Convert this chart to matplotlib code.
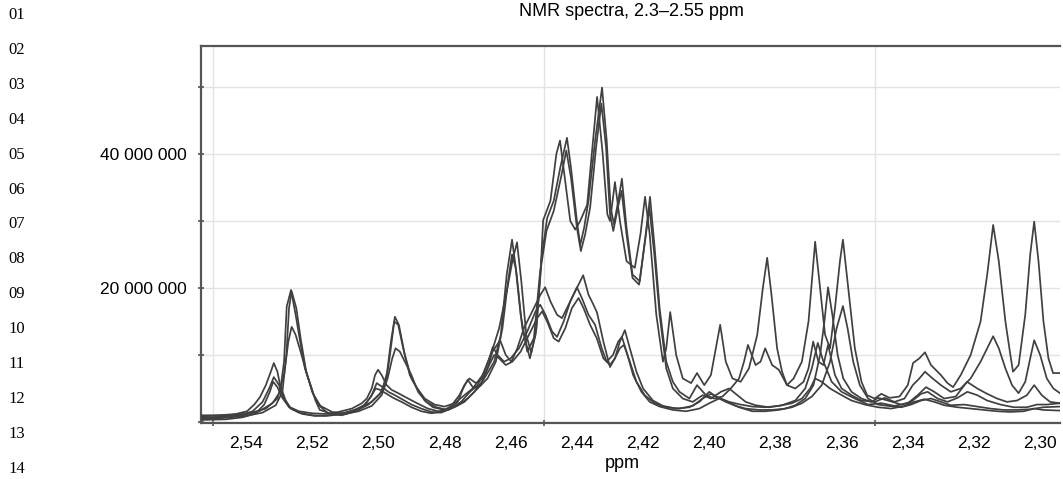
import matplotlib
matplotlib.use("Agg")
import matplotlib.pyplot as plt
from matplotlib.ticker import MultipleLocator, FixedLocator, FuncFormatter

# spectra: (ppm, intensity in millions)
trace_a1 = [
    (2.5536, 0.6), (2.548, 0.8), (2.541, 1.0), (2.536, 1.6), (2.532, 2.8), (2.5297, 4.5),
    (2.5285, 9), (2.5277, 17.2), (2.5264, 19.7), (2.5250, 16), (2.5237, 12.2), (2.5222, 8),
    (2.5207, 5.8), (2.5190, 3.2), (2.5177, 1.8), (2.514, 1.2), (2.510, 1.3), (2.506, 2.0),
    (2.502, 3.0), (2.4990, 4.5), (2.4974, 7.3), (2.4962, 12), (2.4950, 15.7), (2.4938, 14.5),
    (2.4920, 10), (2.4900, 6.5), (2.4883, 5.0), (2.4860, 3.2), (2.4835, 2.2), (2.4800, 1.8),
    (2.4770, 2.2), (2.4740, 3.0), (2.4710, 4.5), (2.4680, 6.5), (2.4650, 9), (2.4630, 13),
    (2.4612, 22), (2.4596, 27.2), (2.4582, 22), (2.4565, 14), (2.4542, 9.5), (2.4525, 13),
    (2.4510, 22), (2.4502, 30.1), (2.4480, 33), (2.4462, 40), (2.4451, 42.0), (2.4438, 37),
    (2.4420, 30), (2.4405, 28.7), (2.4390, 30), (2.4369, 32.4), (2.4355, 40), (2.4339, 48.5),
    (2.4322, 40), (2.4308, 31), (2.4300, 30), (2.4292, 33), (2.4285, 35.8), (2.4270, 30),
    (2.4250, 24), (2.4225, 23), (2.4208, 28), (2.4194, 33.6), (2.4180, 28), (2.4160, 16),
    (2.4140, 9), (2.4130, 11), (2.4118, 16.4), (2.4100, 10), (2.4080, 6.5), (2.4055, 5.8),
    (2.4037, 7.3), (2.4015, 5.5), (2.3995, 7), (2.3980, 11), (2.3967, 14.5), (2.3950, 9),
    (2.3930, 6.5), (2.3905, 6), (2.3880, 8), (2.3855, 13), (2.3838, 20), (2.3825, 24.5),
    (2.3812, 19), (2.3795, 11), (2.3780, 7.5), (2.3765, 5.5), (2.3745, 6.5), (2.3720, 9),
    (2.3700, 15), (2.3680, 26.9), (2.3665, 20), (2.3650, 13), (2.3635, 11), (2.3620, 17),
    (2.3605, 24), (2.3596, 27.2), (2.3580, 20), (2.3560, 11), (2.3540, 6), (2.3523, 4.0),
    (2.3500, 3.5), (2.3480, 4.2), (2.3455, 3.6), (2.3425, 3.8), (2.3400, 5.5), (2.3384, 8.8),
    (2.3365, 9.5), (2.3348, 10.4), (2.3330, 8.5), (2.3300, 7), (2.3280, 5.8), (2.3263, 5.2),
    (2.3240, 7), (2.3210, 10), (2.3180, 15), (2.3160, 22), (2.3142, 29.4), (2.3125, 24),
    (2.3105, 15), (2.3090, 10), (2.3082, 7.5), (2.3065, 8.5), (2.3045, 16), (2.3030, 25),
    (2.3018, 29.9), (2.3005, 24), (2.2990, 15), (2.2975, 9.5), (2.2961, 7.3), (2.2940, 7.3),
]

trace_a2 = [
    (2.5536, 0.4), (2.547, 0.6), (2.540, 0.9), (2.535, 1.4), (2.531, 2.5), (2.5290, 4.5),
    (2.5278, 10), (2.5270, 17), (2.5262, 19.5), (2.5248, 17), (2.5235, 12.5), (2.5218, 7.5),
    (2.5200, 4.5), (2.5180, 2.5), (2.5150, 1.2), (2.5110, 1.0), (2.5070, 1.6), (2.5030, 2.6),
    (2.4995, 4.2), (2.4975, 6.5), (2.4965, 10), (2.4952, 15.0), (2.4940, 14.5), (2.4925, 11),
    (2.4905, 7), (2.4885, 5.2), (2.4860, 3.5), (2.4830, 2.6), (2.4800, 2.3), (2.4770, 2.8),
    (2.4745, 3.8), (2.4715, 5), (2.4685, 7), (2.4660, 10), (2.4635, 14), (2.4610, 20),
    (2.4595, 24), (2.4581, 26.8), (2.4568, 21), (2.4553, 13), (2.4538, 10.3), (2.4522, 14),
    (2.4508, 24), (2.4490, 30.4), (2.4470, 33), (2.4450, 38), (2.4430, 42.4), (2.4418, 38),
    (2.4400, 30), (2.4390, 26.4), (2.4378, 29), (2.4365, 33), (2.4345, 42), (2.4324, 49.9),
    (2.4310, 42), (2.4298, 32), (2.4288, 29.5), (2.4275, 33), (2.4264, 36.3), (2.4250, 29),
    (2.4232, 22), (2.4210, 21), (2.4192, 28), (2.4179, 33.6), (2.4165, 26), (2.4150, 17),
    (2.4130, 9), (2.4110, 6), (2.4090, 4.5), (2.4060, 3.5), (2.4037, 5.5), (2.4010, 4),
    (2.3985, 3.5), (2.3960, 3.8), (2.3935, 5), (2.3910, 6.5), (2.3895, 9), (2.3883, 11.5),
    (2.3860, 8.5), (2.3845, 9), (2.3831, 11), (2.3810, 8.5), (2.3790, 7.8), (2.3765, 5.5),
    (2.3740, 5), (2.3715, 6), (2.3700, 8), (2.3686, 12), (2.3670, 9), (2.3655, 8.5),
    (2.3641, 11.5), (2.3620, 7), (2.3600, 5), (2.3570, 4), (2.3540, 3.2), (2.3500, 3),
    (2.3470, 3.6), (2.3440, 3.0), (2.3410, 3.5), (2.3385, 5.5), (2.3365, 6.5), (2.3348, 7.5),
    (2.3325, 6.5), (2.3300, 5.5), (2.3270, 4.5), (2.3240, 5), (2.3210, 6.5), (2.3180, 9),
    (2.3160, 11), (2.3142, 12.8), (2.3125, 11), (2.3105, 8), (2.3085, 5.5), (2.3065, 4.3),
    (2.3045, 6), (2.3030, 9.5), (2.3018, 12.2), (2.3000, 10), (2.2980, 6.5), (2.2960, 5),
    (2.2940, 4.3),
]

trace_a3 = [
    (2.5536, 1.0), (2.546, 1.0), (2.539, 1.3), (2.534, 2.0), (2.5305, 3.5), (2.5285, 7),
    (2.5272, 12), (2.5262, 14.2), (2.5250, 13), (2.5235, 10.5), (2.5215, 7), (2.5195, 4),
    (2.5175, 2.4), (2.5140, 1.5), (2.5100, 1.2), (2.5060, 1.6), (2.5020, 2.4), (2.4990, 4),
    (2.4972, 6.5), (2.4958, 9.5), (2.4948, 11), (2.4935, 10.5), (2.4920, 9), (2.4900, 7),
    (2.4880, 4.5), (2.4855, 3), (2.4825, 2.2), (2.4790, 1.8), (2.4760, 2.5), (2.4730, 3.5),
    (2.4700, 5), (2.4670, 6.5), (2.4645, 9), (2.4625, 14), (2.4608, 21), (2.4596, 25),
    (2.4585, 23), (2.4570, 16), (2.4550, 10.5), (2.4530, 12.5), (2.4512, 22), (2.4492, 28.5),
    (2.4470, 31.5), (2.4448, 36.5), (2.4432, 40.5), (2.4418, 36.5), (2.4400, 29), (2.4388, 25.5),
    (2.4375, 28), (2.4360, 32), (2.4342, 41), (2.4326, 47.5), (2.4312, 41), (2.4300, 31),
    (2.4290, 28.5), (2.4276, 32), (2.4265, 34.5), (2.4250, 28), (2.4232, 21.5), (2.4212, 20.5),
    (2.4194, 27), (2.4181, 32), (2.4166, 25), (2.4150, 16), (2.4130, 8), (2.4110, 5),
    (2.4080, 3.5), (2.4050, 3), (2.4020, 4), (2.3995, 3.5), (2.3965, 4.5), (2.3940, 5),
    (2.3915, 4), (2.3890, 3), (2.3860, 2.5), (2.3820, 2.2), (2.3780, 2.5), (2.3740, 3.2),
    (2.3710, 5), (2.3690, 8), (2.3672, 11.8), (2.3655, 9), (2.3630, 6), (2.3600, 4.5),
    (2.3560, 3.5), (2.3520, 2.6), (2.3480, 2.8), (2.3440, 2.4), (2.3400, 2.8), (2.3370, 4),
    (2.3345, 5.2), (2.3320, 4.5), (2.3290, 3.5), (2.3255, 3.8), (2.3221, 6), (2.3190, 5),
    (2.3160, 4.2), (2.3130, 3.5), (2.3100, 3), (2.3070, 3.2), (2.3040, 4), (2.3018, 5.5),
    (2.2995, 4), (2.2970, 3), (2.2940, 2.8),
]

trace_b1 = [
    (2.5536, 0.8), (2.548, 1.0), (2.543, 1.2), (2.5397, 1.6), (2.5375, 2.6), (2.5358, 3.7),
    (2.5340, 5.5), (2.5325, 7.5), (2.5316, 8.8), (2.5305, 7.5), (2.5297, 5.5), (2.5280, 3.2),
    (2.5267, 2.2), (2.5240, 1.6), (2.5200, 1.3), (2.5160, 1.2), (2.5120, 1.5), (2.5080, 2.0),
    (2.5050, 2.8), (2.5035, 3.5), (2.5020, 5), (2.5010, 7), (2.5001, 7.8), (2.4990, 7),
    (2.4975, 5.5), (2.4960, 4.8), (2.4940, 4.3), (2.4910, 3.5), (2.4883, 2.8), (2.4850, 2.0),
    (2.4820, 1.6), (2.4790, 1.8), (2.4760, 3), (2.4744, 5), (2.4730, 6.3), (2.4712, 5),
    (2.4690, 5.5), (2.4670, 8), (2.4655, 10.5), (2.4632, 12.2), (2.4615, 10), (2.4598, 9),
    (2.4580, 11), (2.4560, 14), (2.4530, 17), (2.4510, 19), (2.4496, 20.1), (2.4480, 18),
    (2.4460, 16), (2.4445, 15.5), (2.4425, 17.5), (2.4400, 20), (2.4381, 21.9), (2.4365, 19),
    (2.4350, 17.5), (2.4339, 16.3), (2.4320, 12), (2.4300, 8.2), (2.4285, 9.5), (2.4270, 12),
    (2.4255, 13.7), (2.4240, 11), (2.4220, 7.5), (2.4200, 5), (2.4170, 3.2), (2.4140, 2.4),
    (2.4100, 2.0), (2.4060, 2.2), (2.4030, 3), (2.4000, 4.5), (2.3980, 3.8), (2.3950, 3),
    (2.3920, 2.4), (2.3890, 2.0), (2.3850, 1.8), (2.3810, 1.8), (2.3770, 2.0), (2.3740, 2.5),
    (2.3710, 3.5), (2.3685, 5.5), (2.3665, 10), (2.3652, 15), (2.3641, 20.1), (2.3628, 16),
    (2.3612, 10), (2.3595, 6.5), (2.3570, 4.5), (2.3540, 3.5), (2.3510, 3), (2.3490, 3.6),
    (2.3460, 3.2), (2.3420, 2.6), (2.3390, 3), (2.3360, 4.2), (2.3340, 4.5), (2.3310, 3.5),
    (2.3280, 3), (2.3250, 3.6), (2.3220, 4.5), (2.3190, 4), (2.3160, 3.2), (2.3120, 2.6),
    (2.3080, 2.2), (2.3040, 2.2), (2.3010, 2.6), (2.2980, 2.6), (2.2940, 2.8),
]

trace_b2 = [
    (2.5536, 0.5), (2.547, 0.7), (2.542, 1.0), (2.538, 1.6), (2.5350, 3), (2.5330, 5),
    (2.5316, 6.7), (2.5300, 5.5), (2.5285, 3.5), (2.5265, 2), (2.5230, 1.2), (2.5190, 0.9),
    (2.5150, 1.0), (2.5110, 1.3), (2.5070, 1.8), (2.5040, 2.6), (2.5020, 4), (2.5005, 5.8),
    (2.4990, 5.3), (2.4970, 4.5), (2.4950, 4.0), (2.4925, 3.3), (2.4900, 2.6), (2.4870, 2.0),
    (2.4840, 1.5), (2.4810, 1.4), (2.4780, 2.0), (2.4750, 3), (2.4723, 4.5), (2.4700, 5.5),
    (2.4680, 7.5), (2.4665, 9.5), (2.4654, 11.2), (2.4640, 10), (2.4620, 9), (2.4600, 9.5),
    (2.4575, 11), (2.4550, 13.5), (2.4525, 16.5), (2.4511, 17.5), (2.4495, 16), (2.4475, 13.5),
    (2.4460, 12.7), (2.4440, 15), (2.4420, 18), (2.4400, 20.1), (2.4385, 18.5), (2.4365, 16),
    (2.4345, 14.5), (2.4325, 11), (2.4310, 9), (2.4291, 10), (2.4275, 12), (2.4264, 12.7),
    (2.4250, 10.5), (2.4230, 7), (2.4205, 4.5), (2.4180, 3), (2.4150, 2.3), (2.4110, 1.8),
    (2.4070, 1.6), (2.4030, 2), (2.4000, 2.8), (2.3970, 3.5), (2.3945, 3), (2.3910, 2.2),
    (2.3870, 1.6), (2.3830, 1.6), (2.3790, 1.8), (2.3750, 2.2), (2.3720, 2.8), (2.3690, 3.8),
    (2.3660, 5.5), (2.3635, 9), (2.3615, 14), (2.3596, 17.3), (2.3582, 14), (2.3565, 9),
    (2.3545, 5.5), (2.3520, 3.5), (2.3490, 2.6), (2.3460, 2.4), (2.3420, 2.2), (2.3390, 2.6),
    (2.3360, 3.2), (2.3330, 3.5), (2.3300, 3), (2.3270, 2.5), (2.3230, 2.6), (2.3190, 2.3),
    (2.3150, 2.0), (2.3110, 1.8), (2.3070, 1.8), (2.3030, 1.9), (2.2990, 2.2), (2.2940, 2.3),
]

trace_b3 = [
    (2.5536, 0.3), (2.546, 0.4), (2.541, 0.7), (2.537, 1.3), (2.5345, 2.6), (2.5328, 4.5),
    (2.5318, 6.0), (2.5305, 5.2), (2.5290, 3.6), (2.5270, 2.2), (2.5240, 1.4), (2.5200, 1.0),
    (2.5160, 0.9), (2.5120, 1.1), (2.5080, 1.6), (2.5045, 2.4), (2.5025, 3.6), (2.5008, 5.0),
    (2.4995, 4.8), (2.4975, 4.2), (2.4955, 3.6), (2.4930, 3.0), (2.4900, 2.2), (2.4870, 1.6),
    (2.4840, 1.3), (2.4810, 1.5), (2.4780, 2.4), (2.4755, 4), (2.4740, 5.5), (2.4725, 6.5),
    (2.4705, 5.8), (2.4685, 6.5), (2.4665, 8.5), (2.4650, 10), (2.4635, 9.5), (2.4615, 8.5),
    (2.4595, 9), (2.4570, 10.5), (2.4545, 13), (2.4520, 15.5), (2.4505, 16.5), (2.4490, 15),
    (2.4470, 12.5), (2.4455, 12), (2.4435, 14), (2.4415, 17), (2.4395, 18.5), (2.4380, 17),
    (2.4360, 14.5), (2.4340, 12.5), (2.4320, 9.5), (2.4300, 8.5), (2.4285, 9.5), (2.4270, 11),
    (2.4258, 11.5), (2.4240, 9), (2.4220, 6), (2.4195, 4), (2.4165, 2.8), (2.4130, 2.2),
    (2.4090, 2.0), (2.4050, 2.4), (2.4020, 3.5), (2.3995, 4.2), (2.3970, 3.6), (2.3940, 3.0),
    (2.3905, 2.6), (2.3870, 2.3), (2.3830, 2.2), (2.3790, 2.4), (2.3750, 2.8), (2.3720, 3.5),
    (2.3695, 5), (2.3680, 6.5), (2.3660, 6), (2.3635, 5), (2.3600, 4), (2.3570, 3.2),
    (2.3530, 2.6), (2.3490, 2.2), (2.3450, 2.0), (2.3410, 2.4), (2.3380, 3), (2.3350, 3.4),
    (2.3320, 3), (2.3290, 2.5), (2.3250, 2.2), (2.3210, 2.0), (2.3170, 1.8), (2.3130, 1.6),
    (2.3090, 1.5), (2.3050, 1.6), (2.3018, 2.0), (2.2990, 1.8), (2.2940, 1.7),
]

traces = [trace_a1, trace_a2, trace_a3, trace_b1, trace_b2, trace_b3]

x_labels = [2.54, 2.52, 2.50, 2.48, 2.46, 2.44, 2.42, 2.40, 2.38, 2.36, 2.34, 2.32, 2.30]
y_labels = [20e6, 40e6]

plt.rcParams['font.family'] = ['Liberation Sans', 'DejaVu Sans']

fig = plt.figure(figsize=(10.63, 4.79), dpi=100)
ax = fig.add_axes([201 / 1063, 1 - 423 / 479, 859 / 1063, 377 / 479])

for tr in traces:
    ppm = [p for p, v in tr]
    val = [v * 1e6 for p, v in tr]
    ax.plot(ppm, val, color='#404040', lw=1.25, zorder=3)

ax.set_xlim(2.5536, 2.2940)
ax.set_ylim(-0.15e6, 56.1e6)

# labels every 0.02, grid + tick marks every 0.05
ax.xaxis.set_major_locator(FixedLocator(x_labels))
ax.xaxis.set_major_formatter(FuncFormatter(lambda v, p: f"{v:.2f}".replace('.', ',')))
ax.xaxis.set_minor_locator(MultipleLocator(0.05))
ax.tick_params(axis='x', which='major', length=0, pad=9, labelsize=12.5)
ax.tick_params(axis='x', which='minor', length=4, width=1.2, color='#555555', direction='inout')
ax.grid(True, axis='x', which='minor', color='#e3e3e3', lw=1)

ax.yaxis.set_major_locator(FixedLocator(y_labels))
ax.yaxis.set_major_formatter(FuncFormatter(lambda v, p: f"{int(v):,}".replace(',', ' ')))
ax.yaxis.set_minor_locator(MultipleLocator(10e6))
ax.tick_params(axis='y', which='both', length=4, width=1.2, color='#555555', direction='inout')
ax.tick_params(axis='y', which='major', pad=8, labelsize=12.5)
ax.grid(True, axis='y', which='both', color='#e3e3e3', lw=1)
ax.set_axisbelow(True)

for side in ['left', 'bottom', 'top']:
    ax.spines[side].set_color('#555555')
    ax.spines[side].set_linewidth(1.6)
ax.spines['right'].set_visible(False)

fig.text(631 / 1063, 1 - 12 / 479, 'NMR spectra, 2.3\u20132.55 ppm', ha='center', va='center', fontsize=13)
fig.text(622 / 1063, 1 - 463 / 479, 'ppm', ha='center', va='center', fontsize=13)

# page line numbers in the margin
for i in range(14):
    fig.text(8 / 1063, 1 - (15 + 34.9 * i) / 479, f"{i + 1:02d}", ha='left', va='center',
             fontsize=12, family=['Liberation Serif', 'DejaVu Serif'])

fig.savefig('out.png', dpi=100)
